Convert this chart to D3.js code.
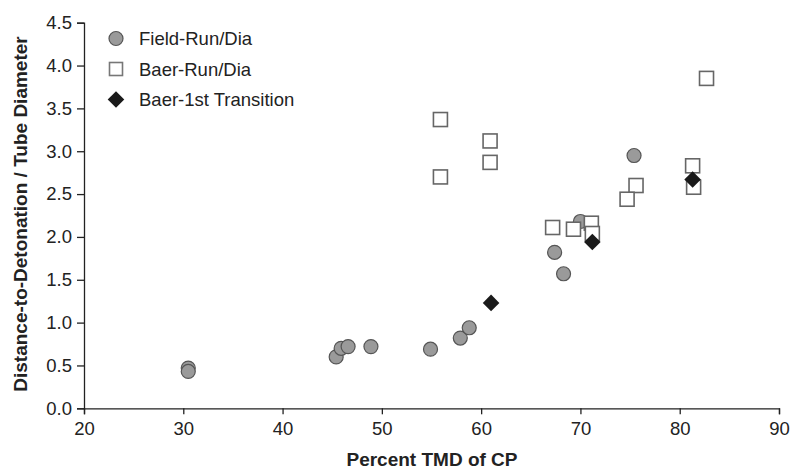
<!DOCTYPE html>
<html>
<head>
<meta charset="utf-8">
<script src="https://cdn.jsdelivr.net/npm/d3@7"></script>
<style>
  body { margin: 0; background: #fff; }
  text { font-family: "Liberation Sans", Arial, sans-serif; fill: #222; }
</style>
</head>
<body>
<div id="theGraph"></div>
<script>
// Field-Run/Dia  (percent TMD, run/dia)
const fieldX = [30.5, 30.5, 45.4, 45.9, 46.6, 48.9, 54.9, 57.9, 58.8, 67.4, 68.3, 70.0, 75.4];
const fieldY = [0.47, 0.43, 0.60, 0.70, 0.72, 0.72, 0.69, 0.82, 0.94, 1.82, 1.57, 2.18, 2.95];
// Baer-Run/Dia
const baerX = [55.9, 55.9, 60.9, 60.9, 82.7, 75.6, 74.7, 81.3, 81.4, 67.2, 69.3, 71.1, 71.2];
const baerY = [3.37, 2.70, 3.12, 2.87, 3.85, 2.60, 2.44, 2.83, 2.58, 2.11, 2.09, 2.16, 2.04];
// Baer-1st Transition
const transX = [61.0, 71.2, 81.3];
const transY = [1.23, 1.94, 2.67];

const xTicks = [20, 30, 40, 50, 60, 70, 80, 90];
const yTicks = [0, 0.5, 1, 1.5, 2, 2.5, 3, 3.5, 4, 4.5];
const legendLabels = ["Field-Run/Dia", "Baer-Run/Dia", "Baer-1st Transition"];

const width = 792, height = 471,
    margin = {left: 84, top: 22.7, right: 13, bottom: 62.7},
    contentWidth = width - margin.left - margin.right,
    contentHeight = height - margin.top - margin.bottom;

const svg = d3.select("#theGraph").append("svg").attr("width", width).attr("height", height);
const maing = svg.append("g").attr("transform", `translate(${margin.left}, ${margin.top})`);

const xScale = d3.scaleLinear().domain([20, 90]).range([0, contentWidth]);
const yScale = d3.scaleLinear().domain([0, 4.5]).range([contentHeight, 0]);

//Axes
const xAxis = maing.append("g").attr("transform", `translate(0, ${contentHeight})`)
    .call(d3.axisBottom(xScale).tickValues(xTicks).tickFormat(d3.format("d")).tickSize(6).tickPadding(8));
const yAxis = maing.append("g")
    .call(d3.axisLeft(yScale).tickValues(yTicks).tickFormat(d3.format(".1f")).tickSize(7).tickPadding(5));
[xAxis, yAxis].forEach(a => {
    a.select(".domain").attr("stroke", "#222").attr("stroke-width", 1.3);
    a.selectAll(".tick line").attr("stroke", "#222").attr("stroke-width", 1.3);
    a.selectAll(".tick text").style("font-size", "18.5px").attr("fill", "#222");
});

//Axis titles
svg.append("text").attr("x", 432).attr("y", 466)
    .attr("text-anchor", "middle").style("font-size", "19px").style("font-weight", "bold")
    .text("Percent TMD of CP");
svg.append("text").attr("transform", "translate(27, 214) rotate(-90)")
    .attr("text-anchor", "middle").style("font-size", "19px").style("font-weight", "bold")
    .text("Distance-to-Detonation / Tube Diameter");

const diamond = d3.symbol().type(d3.symbolDiamond2).size(175);

//Field circles
maing.selectAll(".field").data(d3.zip(fieldX, fieldY)).enter().append("circle")
    .attr("class", "field")
    .attr("cx", d => xScale(d[0])).attr("cy", d => yScale(d[1])).attr("r", 7)
    .attr("fill", "#9a9a9a").attr("stroke", "#555").attr("stroke-width", 1.2);

//Baer squares
maing.selectAll(".baer").data(d3.zip(baerX, baerY)).enter().append("rect")
    .attr("class", "baer")
    .attr("x", d => xScale(d[0]) - 7).attr("y", d => yScale(d[1]) - 7)
    .attr("width", 14).attr("height", 14)
    .attr("fill", "#fff").attr("stroke", "#666").attr("stroke-width", 1.6);

//Transition diamonds
maing.selectAll(".trans").data(d3.zip(transX, transY)).enter().append("path")
    .attr("class", "trans")
    .attr("transform", d => `translate(${xScale(d[0])}, ${yScale(d[1])})`)
    .attr("d", diamond)
    .attr("fill", "#1a1a1a");

//Legend
const legend = svg.append("g").attr("transform", "translate(116, 38.5)");
const rows = legend.selectAll("g").data(legendLabels).enter().append("g")
    .attr("transform", (d, i) => `translate(0, ${i * 30.5})`);
rows.append("text").attr("x", 23).attr("y", 6.5).style("font-size", "18.5px").text(d => d);
rows.filter((d, i) => i === 0).append("circle").attr("r", 7)
    .attr("fill", "#9a9a9a").attr("stroke", "#555").attr("stroke-width", 1.2);
rows.filter((d, i) => i === 1).append("rect").attr("x", -6.5).attr("y", -6.5).attr("width", 13).attr("height", 13)
    .attr("fill", "#fff").attr("stroke", "#777").attr("stroke-width", 1.6);
rows.filter((d, i) => i === 2).append("path").attr("d", diamond).attr("fill", "#1a1a1a");
</script>
</body>
</html>
